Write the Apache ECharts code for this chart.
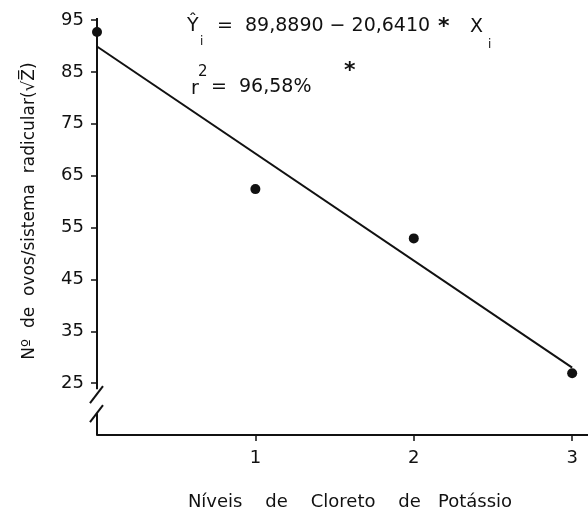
<!DOCTYPE html>
<html lang="pt">
<head>
    <meta charset="utf-8">
    <title>Cloreto de Potássio</title>
    <style>
        html, body { margin: 0; height: 100%; background: #fff; }
        #main { width: 588px; height: 512px; }
    </style>
</head>
<body>
    <div id="main"></div>
    <script src="https://cdn.jsdelivr.net/npm/echarts@6.0.0/dist/echarts.min.js"></script>
    <script>
// dados
const kclLevels = [0, 1, 2, 3];
const eggCounts = [92.7, 62.4, 52.9, 26.9];
const fitX = [0, 3];
const fitY = [89.9, 28.0];
const yTicks = [25, 35, 45, 55, 65, 75, 85, 95];
const xTicks = [1, 2, 3];

const FONT = '"DejaVu Sans", sans-serif';
const INK = '#111';

const chart = echarts.init(document.getElementById('main'));

chart.setOption({
    animation: false,
    grid: { left: 97, right: 0, top: 20, bottom: 77 },
    xAxis: {
        type: 'value',
        min: 0,
        max: 3.1,
        splitLine: { show: false },
        axisLine: { show: true, onZero: false, lineStyle: { color: INK, width: 2 } },
        axisTick: { show: true, customValues: xTicks, length: 6, lineStyle: { color: INK, width: 1.5 } },
        axisLabel: {
            customValues: xTicks,
            margin: 14,
            color: INK,
            fontFamily: FONT,
            fontSize: 18
        }
    },
    yAxis: {
        type: 'value',
        min: 15,
        max: 95,
        splitLine: { show: false },
        axisLine: { show: false },
        axisTick: { show: true, customValues: yTicks, length: 6, lineStyle: { color: INK, width: 1.5 } },
        axisLabel: {
            customValues: yTicks,
            margin: 13,
            color: INK,
            fontFamily: FONT,
            fontSize: 18
        }
    },
    series: [
        {
            type: 'line',
            data: fitX.map((x, i) => [x, fitY[i]]),
            symbol: 'none',
            lineStyle: { color: INK, width: 2 },
            z: 2
        },
        {
            type: 'scatter',
            data: kclLevels.map((x, i) => [x, eggCounts[i]]),
            symbol: 'circle',
            symbolSize: 10,
            itemStyle: { color: INK, opacity: 1 },
            z: 3
        }
    ]
});

// eixo Y interrompido + textos
const px = (x, y) => chart.convertToPixel({ gridIndex: 0 }, [x, y]);
const pTop = px(0, 95);
const p25 = px(0, 25);
const pBottom = px(0, 15);
const ax = pTop[0];

function txt(x, y, s, size, weight) {
    return {
        type: 'text',
        x: x,
        y: y,
        style: {
            text: s,
            font: (weight || 'normal') + ' ' + size + 'px ' + FONT,
            fill: INK,
            align: 'left',
            verticalAlign: 'middle'
        }
    };
}

chart.setOption({
    graphic: [
        { type: 'line', shape: { x1: ax, y1: pTop[1] - 2, x2: ax, y2: p25[1] + 6 }, style: { stroke: INK, lineWidth: 2 } },
        { type: 'line', shape: { x1: ax + 6, y1: p25[1] + 3, x2: ax - 7, y2: p25[1] + 20 }, style: { stroke: INK, lineWidth: 2 } },
        { type: 'line', shape: { x1: ax + 6, y1: p25[1] + 22, x2: ax - 7, y2: p25[1] + 39 }, style: { stroke: INK, lineWidth: 2 } },
        { type: 'line', shape: { x1: ax, y1: p25[1] + 30, x2: ax, y2: pBottom[1] }, style: { stroke: INK, lineWidth: 2 } },

        txt(187, 26, 'Ŷ', 19),
        txt(200, 42, 'i', 12),
        txt(217, 26, '=  89,8890 − 20,6410', 19),
        txt(438, 27, '*', 22, 'bold'),
        txt(470, 27, 'X', 19),
        txt(488, 45, 'i', 12),

        txt(191, 89, 'r', 19),
        txt(198, 72, '2', 15),
        txt(211, 87, '=  96,58%', 19),
        txt(344, 71, '*', 22, 'bold'),

        {
            type: 'text',
            x: 30,
            y: 211,
            rotation: Math.PI / 2,
            style: {
                text: 'Nº  de  ovos/sistema  radicular(√Z̅)',
                font: '17px ' + FONT,
                fill: INK,
                align: 'center',
                verticalAlign: 'middle'
            }
        },
        {
            type: 'text',
            x: 350,
            y: 502,
            style: {
                text: 'Níveis    de    Cloreto    de   Potássio',
                font: '18px ' + FONT,
                fill: INK,
                align: 'center',
                verticalAlign: 'middle'
            }
        }
    ]
});

window.addEventListener('resize', () => chart.resize());
    </script>
</body>
</html>
